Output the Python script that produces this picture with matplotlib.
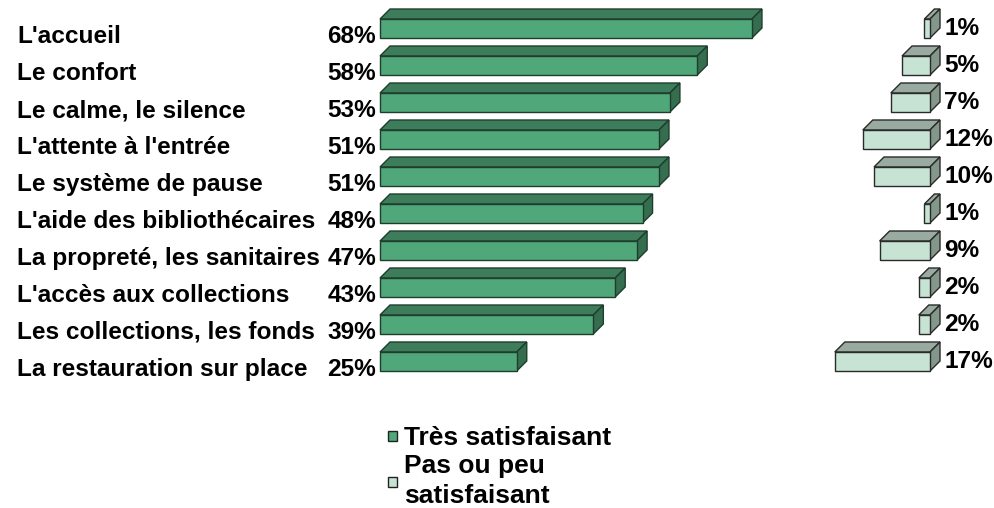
import matplotlib
matplotlib.use("Agg")
import matplotlib.pyplot as plt
from matplotlib.patches import Polygon, Rectangle

categories = ["L'accueil", "Le confort", "Le calme, le silence", "L'attente à l'entrée",
              "Le système de pause", "L'aide des bibliothécaires", "La propreté, les sanitaires",
              "L'accès aux collections", "Les collections, les fonds", "La restauration sur place"]
tres_satisf = [68, 58, 53, 51, 51, 48, 47, 43, 39, 25]
peu_satisf = [1, 5, 7, 12, 10, 1, 9, 2, 2, 17]
legend_labels = ["Très satisfaisant", "Pas ou peu\nsatisfaisant"]

W, H = 994, 508
plt.rcParams['font.family'] = ['Liberation Sans', 'DejaVu Sans']
fig = plt.figure(figsize=(W / 100, H / 100), dpi=100)

row0, row_step = 28.5, 37.0   # pixel centre of first bar front, spacing
top_px, bot_px = 0, 400
ylim = ((bot_px - row0) / row_step, (top_px - row0) / row_step)
half_h = 9.5 / row_step
depth_y = 10 / row_step

def px_axes(x0, x1):
    return fig.add_axes([x0 / W, 1 - bot_px / H, (x1 - x0) / W, (bot_px - top_px) / H])

def bar3d(ax, x0, x1, c, dx, front, top, side, edge):
    kw = dict(edgecolor=edge, linewidth=1, clip_on=False, joinstyle='miter')
    # x1 is the end where the side face sits
    ax.add_patch(Polygon([(x0, c - half_h), (x1, c - half_h), (x1 + dx, c - half_h - depth_y),
                          (x0 + dx, c - half_h - depth_y)], facecolor=top, **kw))
    ax.add_patch(Polygon([(x1, c - half_h), (x1 + dx, c - half_h - depth_y),
                          (x1 + dx, c + half_h - depth_y), (x1, c + half_h)], facecolor=side, **kw))
    ax.add_patch(Polygon([(x0, c - half_h), (x1, c - half_h), (x1, c + half_h), (x0, c + half_h)],
                         facecolor=front, **kw))

# left panel: tres satisfaisant
scale_l = 5.47
axl = px_axes(380, 380 + 75 * scale_l)
axl.set_xlim(0, 75)
axl.set_ylim(*ylim)
axl.axis('off')
for i, v in enumerate(tres_satisf):
    bar3d(axl, 0, v, i, 10 / scale_l, '#50a77a', '#3d7d5b', '#346e4f', '#1f3d2c')

# right panel: pas ou peu satisfaisant (grows to the left)
scale_r = 5.6
axr = px_axes(930 - 20 * scale_r, 930)
axr.set_xlim(20, 0)
axr.set_ylim(*ylim)
axr.axis('off')
for i, v in enumerate(peu_satisf):
    bar3d(axr, v, 0, i, -10 / scale_r, '#c6e3d4', '#99aba0', '#83978b', '#2a2a2a')

# text
fs = 17.6
for i, (cat, a, b) in enumerate(zip(categories, tres_satisf, peu_satisf)):
    yc = 1 - (36.5 + row_step * i) / H
    fig.text(17 / W, yc, cat, fontsize=fs, fontweight='bold', va='center', ha='left')
    fig.text(376 / W, yc, f"{a}%", fontsize=fs, fontweight='bold', va='center', ha='right')
    fig.text(944 / W, 1 - (28.5 + row_step * i) / H, f"{b}%", fontsize=fs, fontweight='bold',
             va='center', ha='left')

# legend
fs_leg = 19
for (ypx, color) in [(436, '#50a77a'), (482, '#c6e3d4')]:
    fig.patches.append(Rectangle((388 / W, 1 - (ypx + 5) / H), 9 / W, 10 / H, transform=fig.transFigure,
                                 facecolor=color, edgecolor='#222222', linewidth=1))
fig.text(404 / W, 1 - 438 / H, legend_labels[0], fontsize=fs_leg, fontweight='bold', va='center', ha='left')
fig.text(404 / W, 1 - 481 / H, legend_labels[1], fontsize=fs_leg, fontweight='bold', va='center', ha='left',
         linespacing=1.28)

fig.savefig("out.png", dpi=100)
